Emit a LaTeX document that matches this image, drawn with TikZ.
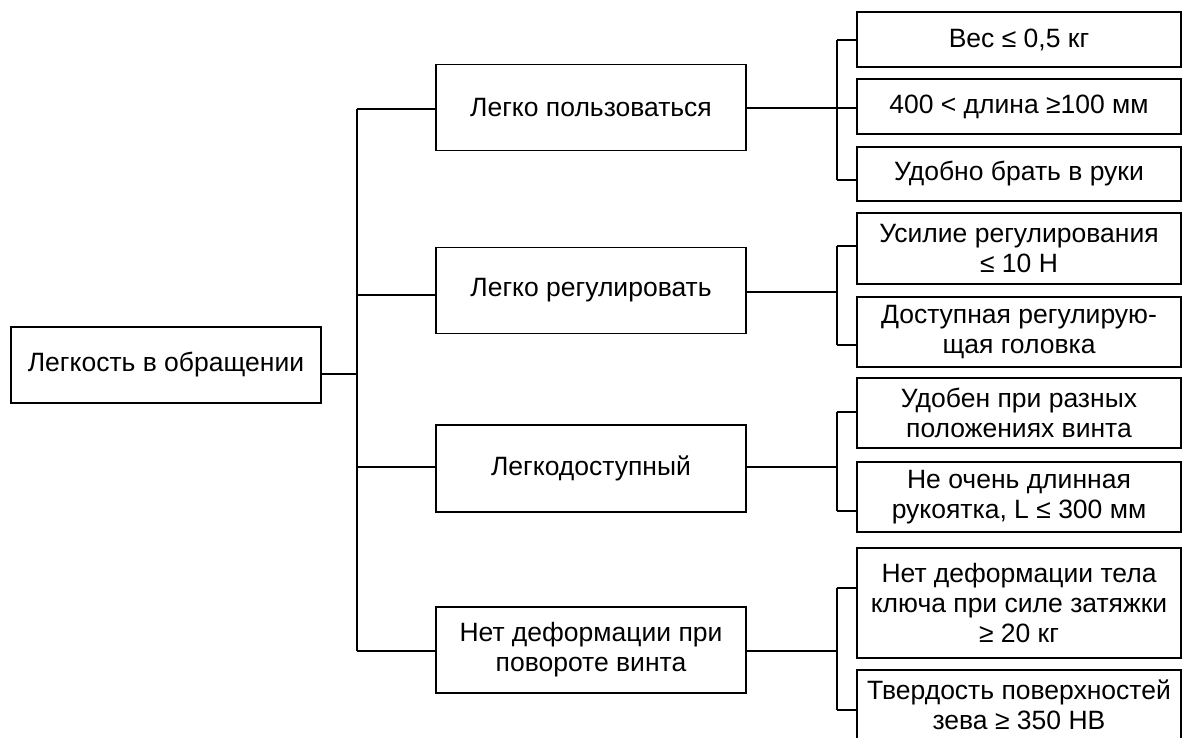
\documentclass[tikz,border=0pt]{standalone}
\usepackage{fontspec}
\setmainfont{Liberation Sans}
\begin{document}
\begin{tikzpicture}[x=1pt,y=-1pt,
  line width=1.6pt,
  box/.style={draw, rectangle, inner sep=0pt, align=center,
    font=\fontsize{26.5}{30}\selectfont},
  rootbox/.style={box, minimum width=310pt, minimum height=76pt},
  midbox/.style={box, minimum width=310pt, minimum height=86pt},
  leafbox/.style={box, minimum width=324pt}]
\useasboundingbox (0,0) rectangle (1183,738);
\clip (0,0) rectangle (1183,738);

% root
\node[rootbox] (root) at (166,365) {Легкость в обращении};

% second level
\node[midbox] (m1) at (591,107.5) {Легко пользоваться};
\node[midbox] (m2) at (591,290.5) {Легко регулировать};
\node[midbox, minimum height=87pt] (m3) at (591,468.5) {Легкодоступный};
\node[midbox] (m4) at (591,650) {Нет деформации при\\повороте винта};

% leaves
\node[leafbox, minimum height=55pt] (r1) at (1019,39.5) {Вес ≤ 0,5 кг};
\node[leafbox, minimum height=55pt] (r2) at (1019,106.5) {400 < длина ≥100 мм};
\node[leafbox, minimum height=54pt] (r3) at (1019,174) {Удобно брать в руки};
\node[leafbox, minimum height=71pt] (r4) at (1019,248.5) {Усилие регулирования\\≤ 10 Н};
\node[leafbox, minimum height=70pt] (r5) at (1019,332) {Доступная регулирую-\\щая головка};
\node[leafbox, minimum height=70pt] (r6) at (1019,413) {Удобен при разных\\положениях винта};
\node[leafbox, minimum height=70pt] (r7) at (1019,497) {Не очень длинная\\рукоятка, L ≤ 300 мм};
\node[leafbox, minimum height=110pt] (r8) at (1019,603) {Нет деформации тела\\ключа при силе затяжки\\≥ 20 кг};
\node[leafbox, minimum height=70pt] (r9) at (1019,705) {Твердость поверхностей\\зева ≥ 350 НВ};

% trunk from the root
\coordinate (t0) at (357,374);
\coordinate (t1) at (357,109);
\coordinate (t4) at (357,651);
\draw ([yshift=-9pt]root.east) -- (t0);
\draw (t1) -- (t4);
\draw (t1) -- (m1.west |- t1);
\draw (357,295) -- (m2.west |- 0,295);
\draw (357,467) -- (m3.west |- 0,467);
\draw (t4) -- (m4.west |- t4);

% branch of the first group
\coordinate (a1) at (837,40);
\coordinate (a3) at (837,180);
\draw (m1.east |- 0,108) -- (837,108);
\draw (a1) -- (a3);
\draw (a1) -- (r1.west |- a1);
\draw (837,108) -- (r2.west |- 0,108);
\draw (a3) -- (r3.west |- a3);

% branch of the second group
\coordinate (b1) at (837,246);
\coordinate (b2) at (837,345);
\draw (m2.east |- 0,292) -- (837,292);
\draw (b1) -- (b2);
\draw (b1) -- (r4.west |- b1);
\draw (b2) -- (r5.west |- b2);

% branch of the third group
\coordinate (c1) at (837,412);
\coordinate (c2) at (837,511);
\draw (m3.east |- 0,467) -- (837,467);
\draw (c1) -- (c2);
\draw (c1) -- (r6.west |- c1);
\draw (c2) -- (r7.west |- c2);

% branch of the fourth group
\coordinate (d1) at (837,588);
\coordinate (d2) at (837,710);
\draw (m4.east |- 0,651) -- (837,651);
\draw (d1) -- (d2);
\draw (d1) -- (r8.west |- d1);
\draw (d2) -- (r9.west |- d2);
\end{tikzpicture}
\end{document}
